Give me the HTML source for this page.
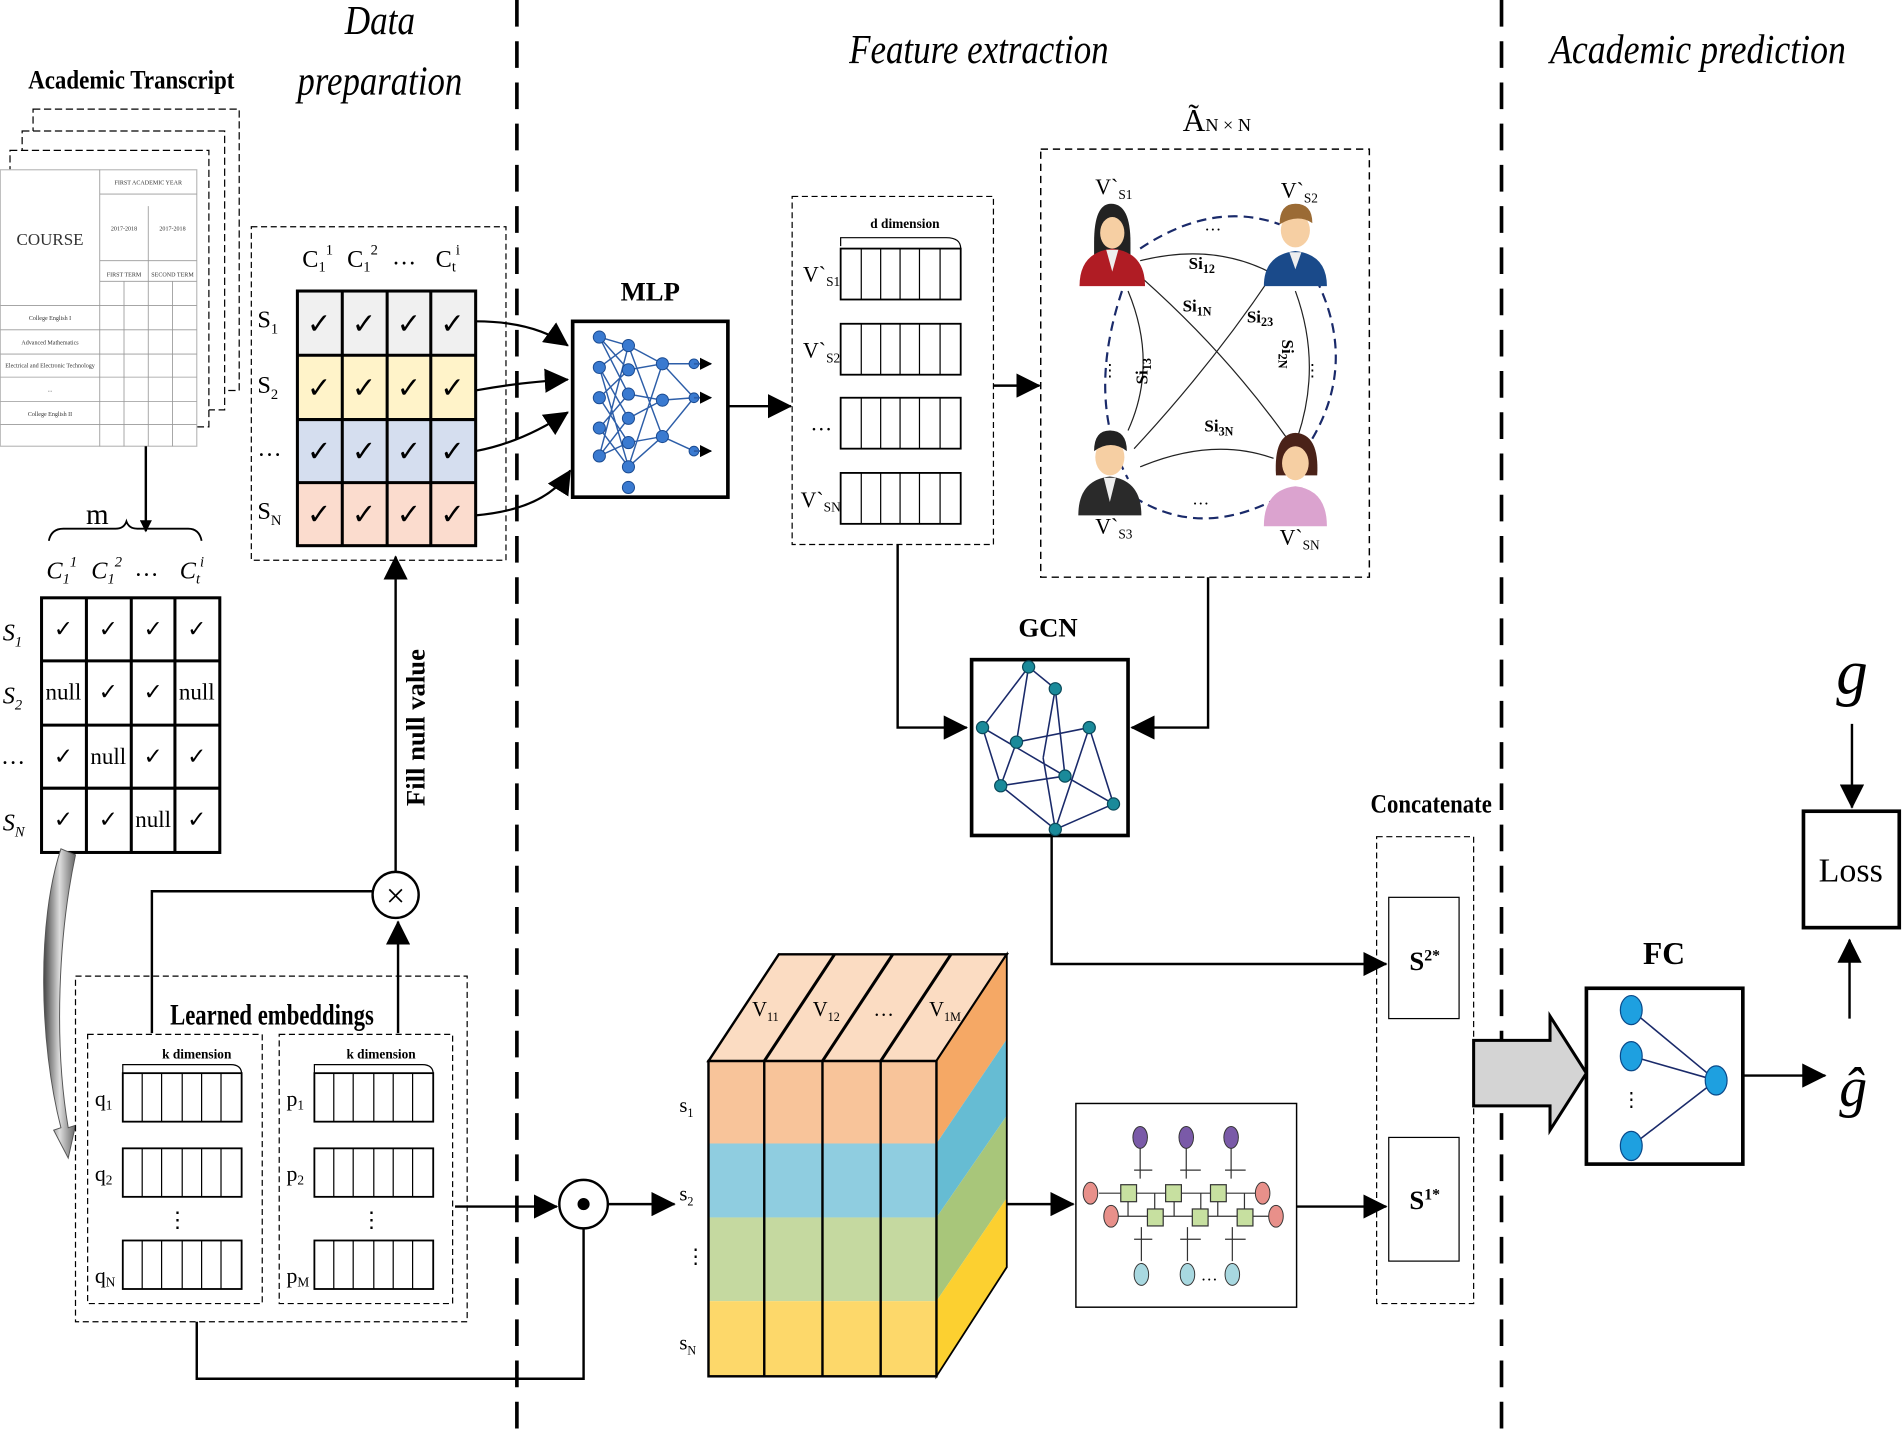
<!DOCTYPE html>
<html><head><meta charset="utf-8"><style>
html,body{margin:0;padding:0;background:#fff;}
svg{display:block;}
text{font-family:"Liberation Serif",serif;}
</style></head><body>
<svg width="1902" height="1443" viewBox="0 0 1568 1190" xmlns="http://www.w3.org/2000/svg">
<defs>
<marker id="ar" markerWidth="10" markerHeight="10" refX="9" refY="5" orient="auto" markerUnits="userSpaceOnUse"><path d="M0,0 L10,5 L0,10 Z" fill="#000"/></marker>
<marker id="arb" markerWidth="20" markerHeight="20" refX="19" refY="10" orient="auto" markerUnits="userSpaceOnUse"><path d="M0,0 L20,10 L0,20 Z" fill="#000"/></marker>
<linearGradient id="gg" x1="0" x2="1"><stop offset="0" stop-color="#444"/><stop offset="0.5" stop-color="#ddd"/><stop offset="1" stop-color="#666"/></linearGradient>
</defs>

<!-- section dividers -->
<line x1="426" y1="0" x2="426" y2="1190" stroke="#000" stroke-width="3" stroke-dasharray="22,12"/>
<line x1="1238" y1="0" x2="1238" y2="1190" stroke="#000" stroke-width="3" stroke-dasharray="22,12"/>

<!-- titles -->
<g font-style="italic" font-size="34" text-anchor="middle">
<text x="313" y="28" textLength="58" lengthAdjust="spacingAndGlyphs">Data</text>
<text x="313" y="78" textLength="136" lengthAdjust="spacingAndGlyphs">preparation</text>
<text x="807" y="52" textLength="214" lengthAdjust="spacingAndGlyphs">Feature extraction</text>
<text x="1400" y="52" textLength="244" lengthAdjust="spacingAndGlyphs">Academic  prediction</text>
</g>
<text x="108" y="73" font-size="22" font-weight="bold" text-anchor="middle" textLength="170" lengthAdjust="spacingAndGlyphs">Academic Transcript</text>

<!-- transcript pages -->
<g fill="#fff" stroke="#000" stroke-width="1">
<rect x="27" y="90" width="170" height="232" stroke-dasharray="6,3"/>
<rect x="18" y="108" width="167" height="230" stroke-dasharray="6,3"/>
<rect x="8" y="124" width="164" height="228" stroke-dasharray="6,3"/>
<rect x="0" y="140" width="162" height="228" stroke="#bbb"/>
</g>
<g stroke="#999" stroke-width="0.7">
<line x1="82" y1="140" x2="82" y2="368"/><line x1="0" y1="252" x2="162" y2="252"/>
<line x1="82" y1="160" x2="162" y2="160"/><line x1="82" y1="215" x2="162" y2="215"/><line x1="82" y1="232" x2="162" y2="232"/>
<line x1="122" y1="170" x2="122" y2="368"/><line x1="102" y1="232" x2="102" y2="368"/><line x1="142" y1="232" x2="142" y2="368"/>
<line x1="0" y1="272" x2="162" y2="272"/><line x1="0" y1="292" x2="162" y2="292"/><line x1="0" y1="311" x2="162" y2="311"/><line x1="0" y1="331" x2="162" y2="331"/><line x1="0" y1="350" x2="162" y2="350"/>
</g>
<g font-size="5" text-anchor="middle" fill="#333">
<text x="122" y="152">FIRST ACADEMIC YEAR</text><text x="102" y="190">2017-2018</text><text x="142" y="190">2017-2018</text>
<text x="102" y="228">FIRST TERM</text><text x="142" y="228">SECOND TERM</text>
<text x="41" y="264">College English I</text><text x="41" y="284">Advanced Mathematics</text><text x="41" y="303">Electrical and Electronic Technology</text><text x="41" y="323">...</text><text x="41" y="343">College English II</text>
</g>
<text x="41" y="202" font-size="14" text-anchor="middle" fill="#333">COURSE</text>
<line x1="120" y1="368" x2="120" y2="438" stroke="#000" stroke-width="2" marker-end="url(#ar)"/>

<!-- m brace -->
<text x="80" y="432" font-size="24" text-anchor="middle">m</text>
<path d="M40,446 Q42,436 52,436 L95,436 Q102,436 104,430 Q106,436 113,436 L155,436 Q164,436 166,446" fill="none" stroke="#000" stroke-width="1.5"/>
<g font-size="20" font-style="italic">
<text x="38" y="477">C<tspan font-size="12" dy="4">1</tspan><tspan font-size="12" dy="-14">1</tspan></text>
<text x="75" y="477">C<tspan font-size="12" dy="4">1</tspan><tspan font-size="12" dy="-14">2</tspan></text>
<text x="112" y="475">…</text>
<text x="148" y="477">C<tspan font-size="12" dy="4">t</tspan><tspan font-size="12" dy="-14">i</tspan></text>
</g>
<!-- raw table -->
<g stroke="#000" stroke-width="2.5" fill="none">
<rect x="34" y="493" width="147" height="210"/>
<line x1="71" y1="493" x2="71" y2="703"/><line x1="108" y1="493" x2="108" y2="703"/><line x1="144" y1="493" x2="144" y2="703"/>
<line x1="34" y1="545" x2="181" y2="545"/><line x1="34" y1="598" x2="181" y2="598"/><line x1="34" y1="650" x2="181" y2="650"/>
</g>
<g font-size="19" text-anchor="middle">
<text x="52" y="525">✓</text><text x="89" y="525">✓</text><text x="126" y="525">✓</text><text x="162" y="525">✓</text>
<text x="52" y="577">null</text><text x="89" y="577">✓</text><text x="126" y="577">✓</text><text x="162" y="577">null</text>
<text x="52" y="630">✓</text><text x="89" y="630">null</text><text x="126" y="630">✓</text><text x="162" y="630">✓</text>
<text x="52" y="682">✓</text><text x="89" y="682">✓</text><text x="126" y="682">null</text><text x="162" y="682">✓</text>
</g>
<g font-size="20" font-style="italic">
<text x="2" y="528">S<tspan font-size="12" dy="5">1</tspan></text>
<text x="2" y="580">S<tspan font-size="12" dy="5">2</tspan></text>
<text x="2" y="630">…</text>
<text x="2" y="685">S<tspan font-size="12" dy="5">N</tspan></text>
</g>
<!-- gray curved arrow -->
<path d="M50,700 C30,760 32,860 50,930 L44,932 L56,955 L62,928 L56,930 C44,860 48,770 62,705 Z" fill="url(#gg)" stroke="#555" stroke-width="0.8"/>

<!-- data prep box -->
<rect x="207" y="187" width="210" height="275" fill="none" stroke="#000" stroke-width="1" stroke-dasharray="5,3"/>
<g font-size="20">
<text x="249" y="220">C<tspan font-size="12" dy="4">1</tspan><tspan font-size="12" dy="-14">1</tspan></text>
<text x="286" y="220">C<tspan font-size="12" dy="4">1</tspan><tspan font-size="12" dy="-14">2</tspan></text>
<text x="323" y="218">…</text>
<text x="359" y="220">C<tspan font-size="12" dy="4">t</tspan><tspan font-size="12" dy="-14">i</tspan></text>
<text x="212" y="270">S<tspan font-size="12" dy="5">1</tspan></text>
<text x="212" y="324">S<tspan font-size="12" dy="5">2</tspan></text>
<text x="212" y="376">…</text>
<text x="212" y="428">S<tspan font-size="12" dy="5">N</tspan></text>
</g>
<rect x="245" y="240" width="147" height="53" fill="#f0f0f0"/>
<rect x="245" y="293" width="147" height="53" fill="#fff3c9"/>
<rect x="245" y="346" width="147" height="52" fill="#d5deef"/>
<rect x="245" y="398" width="147" height="52" fill="#fbdcce"/>
<g stroke="#000" stroke-width="2.5" fill="none">
<rect x="245" y="240" width="147" height="210"/>
<line x1="282" y1="240" x2="282" y2="450"/><line x1="319" y1="240" x2="319" y2="450"/><line x1="355" y1="240" x2="355" y2="450"/>
<line x1="245" y1="293" x2="392" y2="293"/><line x1="245" y1="346" x2="392" y2="346"/><line x1="245" y1="398" x2="392" y2="398"/>
</g>
<g font-size="24" text-anchor="middle">
<text x="263" y="275">✓</text><text x="300" y="275">✓</text><text x="337" y="275">✓</text><text x="373" y="275">✓</text>
<text x="263" y="328">✓</text><text x="300" y="328">✓</text><text x="337" y="328">✓</text><text x="373" y="328">✓</text>
<text x="263" y="380">✓</text><text x="300" y="380">✓</text><text x="337" y="380">✓</text><text x="373" y="380">✓</text>
<text x="263" y="432">✓</text><text x="300" y="432">✓</text><text x="337" y="432">✓</text><text x="373" y="432">✓</text>
</g>
<g stroke="#000" stroke-width="1.8" fill="none">
<path d="M392,265 Q440,265 468,285" marker-end="url(#arb)"/>
<path d="M392,322 Q430,315 468,313" marker-end="url(#arb)"/>
<path d="M392,372 Q430,365 468,340" marker-end="url(#arb)"/>
<path d="M392,425 Q450,420 470,388" marker-end="url(#arb)"/>
</g>

<!-- MLP -->
<text x="536" y="248" font-size="22" font-weight="bold" text-anchor="middle">MLP</text>
<rect x="472" y="265" width="128" height="145" fill="#fff" stroke="#000" stroke-width="3"/>
<g stroke="#2d5ea8" stroke-width="1.2">
<path d="M494,278 L518,285 M494,278 L518,305 M494,278 L518,325 M494,303 L518,285 M494,303 L518,345 M494,328 L518,305 M494,328 L518,365 M494,353 L518,325 M494,353 L518,385 M494,376 L518,345 M494,376 L518,365 M494,303 L518,385 M494,376 L518,285"/>
<path d="M518,285 L546,300 M518,305 L546,300 M518,325 L546,330 M518,345 L546,330 M518,365 L546,360 M518,385 L546,360 M518,285 L546,360 M518,385 L546,300 M546,300 L572,300 M546,330 L572,328 M546,360 L572,372 M546,300 L572,328 M546,360 L572,328"/>
</g>
<g fill="#3a7ad0" stroke="#1a4a90" stroke-width="0.8">
<circle cx="494" cy="278" r="5"/><circle cx="494" cy="303" r="5"/><circle cx="494" cy="328" r="5"/><circle cx="494" cy="353" r="5"/><circle cx="494" cy="376" r="5"/>
<circle cx="518" cy="285" r="5"/><circle cx="518" cy="305" r="5"/><circle cx="518" cy="325" r="5"/><circle cx="518" cy="345" r="5"/><circle cx="518" cy="365" r="5"/><circle cx="518" cy="385" r="5"/><circle cx="518" cy="402" r="5"/>
<circle cx="546" cy="300" r="5"/><circle cx="546" cy="330" r="5"/><circle cx="546" cy="360" r="5"/>
<circle cx="572" cy="300" r="4"/><circle cx="572" cy="328" r="4"/><circle cx="572" cy="372" r="4"/>
</g>
<g stroke="#2d5ea8" stroke-width="1.5"><line x1="572" y1="300" x2="586" y2="300" marker-end="url(#ar)"/><line x1="572" y1="328" x2="586" y2="328" marker-end="url(#ar)"/><line x1="572" y1="372" x2="586" y2="372" marker-end="url(#ar)"/></g>
<line x1="600" y1="335" x2="652" y2="335" stroke="#000" stroke-width="2" marker-end="url(#arb)"/>

<!-- vectors box -->
<rect x="653" y="162" width="166" height="287" fill="none" stroke="#000" stroke-width="1" stroke-dasharray="5,3"/>
<text x="746" y="188" font-size="11" font-weight="bold" text-anchor="middle">d dimension</text>
<path d="M693,203 L693,196 L780,196 Q792,196 792,205" fill="none" stroke="#000" stroke-width="1"/>
<g stroke="#000" stroke-width="1.5" fill="#fff">
<rect x="693" y="205" width="99" height="42"/><rect x="693" y="267" width="99" height="42"/><rect x="693" y="328" width="99" height="42"/><rect x="693" y="390" width="99" height="42"/>
</g>
<g stroke="#000" stroke-width="1">
<path d="M710,205v42M726,205v42M742,205v42M758,205v42M775,205v42 M710,267v42M726,267v42M742,267v42M758,267v42M775,267v42 M710,328v42M726,328v42M742,328v42M758,328v42M775,328v42 M710,390v42M726,390v42M742,390v42M758,390v42M775,390v42"/>
</g>
<g font-size="18">
<text x="662" y="232">V`<tspan font-size="11" dy="4">S1</tspan></text>
<text x="662" y="295">V`<tspan font-size="11" dy="4">S2</tspan></text>
<text x="668" y="355">…</text>
<text x="660" y="418">V`<tspan font-size="11" dy="4">SN</tspan></text>
</g>
<line x1="819" y1="318" x2="857" y2="318" stroke="#000" stroke-width="2" marker-end="url(#arb)"/>

<!-- graph box -->
<text x="975" y="108" font-size="26">Ã<tspan font-size="15">N × N</tspan></text>
<rect x="858" y="123" width="271" height="353" fill="none" stroke="#000" stroke-width="1.2" stroke-dasharray="6,4"/>
<g fill="none" stroke="#1a2a6a" stroke-width="1.8" stroke-dasharray="8,5">
<path d="M925,240 Q895,330 930,395"/>
<path d="M940,205 Q1000,165 1055,185"/>
<path d="M1085,230 Q1120,300 1080,365"/>
<path d="M935,410 Q990,445 1055,410"/>
</g>
<g fill="none" stroke="#222" stroke-width="1">
<path d="M940,215 Q1000,200 1048,225"/>
<path d="M930,240 Q955,300 930,355"/>
<path d="M940,228 Q1010,290 1060,360"/>
<path d="M1050,225 Q1000,300 935,370"/>
<path d="M1068,240 Q1090,300 1070,360"/>
<path d="M940,385 Q1000,360 1050,378"/>
</g>
<g font-size="14" font-weight="bold">
<text x="980" y="222">Si<tspan font-size="10" dy="3">12</tspan></text>
<text x="975" y="257">Si<tspan font-size="10" dy="3">1N</tspan></text>
<text x="1028" y="266">Si<tspan font-size="10" dy="3">23</tspan></text>
<text x="993" y="356">Si<tspan font-size="10" dy="3">3N</tspan></text>
<text transform="translate(946,317) rotate(-90)">Si<tspan font-size="10" dy="3">13</tspan></text>
<text transform="translate(1057,280) rotate(90)">Si<tspan font-size="10" dy="3">2N</tspan></text>
</g>
<g font-size="14" text-anchor="middle"><text x="1000" y="190">…</text><text x="990" y="416">…</text><text x="915" y="310">⋮</text><text x="1082" y="310">⋮</text></g>
<g font-size="18">
<text x="903" y="160">V`<tspan font-size="11" dy="4">S1</tspan></text>
<text x="1056" y="163">V`<tspan font-size="11" dy="4">S2</tspan></text>
<text x="903" y="440">V`<tspan font-size="11" dy="4">S3</tspan></text>
<text x="1055" y="449">V`<tspan font-size="11" dy="4">SN</tspan></text>
</g>
<!-- persons -->
<g>
<path d="M902,200 Q902,168 916,168 Q932,168 932,200 L932,210 L902,210 Z" fill="#222"/>
<ellipse cx="917" cy="192" rx="10" ry="13" fill="#f6cfa3"/>
<path d="M890,236 Q890,208 917,205 Q944,208 944,236 Z" fill="#b01c24"/>
<path d="M912,206 L917,224 L922,206 Z" fill="#eee"/>
</g>
<g>
<ellipse cx="1068" cy="190" rx="12" ry="14" fill="#f6cfa3"/>
<path d="M1055,185 Q1055,168 1068,168 Q1082,168 1082,184 Q1070,176 1055,185Z" fill="#9b6b35"/>
<path d="M1042,236 Q1042,210 1068,207 Q1094,210 1094,236 Z" fill="#1a4a8a"/>
<path d="M1063,208 L1068,222 L1073,208 Z" fill="#eee"/>
</g>
<g>
<ellipse cx="915" cy="377" rx="12" ry="15" fill="#f6cfa3"/>
<path d="M902,372 Q902,355 915,355 Q929,355 929,372 Q916,362 902,372Z" fill="#222"/>
<path d="M889,425 Q889,396 915,393 Q941,396 941,425 Z" fill="#2a2a2a"/>
<path d="M910,394 L915,414 L920,394 Z" fill="#eee"/>
</g>
<g>
<path d="M1052,392 Q1050,358 1068,357 Q1088,358 1086,392 Z" fill="#4a2218"/>
<ellipse cx="1068" cy="382" rx="11" ry="14" fill="#f6cfa3"/>
<path d="M1042,434 Q1042,404 1068,401 Q1094,404 1094,434 Z" fill="#dba3cf"/>
</g>

<!-- GCN -->
<text x="864" y="525" font-size="22" font-weight="bold" text-anchor="middle">GCN</text>
<rect x="801" y="544" width="129" height="145" fill="#fff" stroke="#000" stroke-width="3"/>
<g stroke="#1a2a6a" stroke-width="1.3" fill="none">
<path d="M848,550 L810,600 M848,550 L870,568 M848,550 L838,612 M870,568 L878,640 M870,568 L860,625 M810,600 L825,648 M810,600 L878,640 M838,612 L825,648 M838,612 L898,600 M898,600 L918,663 M898,600 L870,684 M878,640 L918,663 M825,648 L878,640 M870,684 L918,663 M860,625 L870,684 M825,648 L870,684"/>
</g>
<g fill="#1a8a9a" stroke="#0a4a5a" stroke-width="1">
<circle cx="848" cy="550" r="5"/><circle cx="870" cy="568" r="5"/><circle cx="810" cy="600" r="5"/><circle cx="838" cy="612" r="5"/><circle cx="898" cy="600" r="5"/><circle cx="878" cy="640" r="5"/><circle cx="825" cy="648" r="5"/><circle cx="918" cy="663" r="5"/><circle cx="870" cy="684" r="5"/>
</g>
<polyline points="740,449 740,600 797,600" fill="none" stroke="#000" stroke-width="2" marker-end="url(#arb)"/>
<polyline points="996,476 996,600 933,600" fill="none" stroke="#000" stroke-width="2" marker-end="url(#arb)"/>
<polyline points="867,689 867,795 1143,795" fill="none" stroke="#000" stroke-width="2" marker-end="url(#arb)"/>

<!-- concatenate -->
<text x="1180" y="670" font-size="22" font-weight="bold" text-anchor="middle" textLength="100" lengthAdjust="spacingAndGlyphs">Concatenate</text>
<rect x="1135" y="690" width="80" height="385" fill="none" stroke="#000" stroke-width="1" stroke-dasharray="5,3"/>
<rect x="1145" y="740" width="58" height="100" fill="#fff" stroke="#000" stroke-width="1"/>
<rect x="1145" y="938" width="58" height="102" fill="#fff" stroke="#000" stroke-width="1"/>
<text x="1162" y="800" font-size="22" font-weight="bold">S<tspan font-size="13" dy="-8">2*</tspan></text>
<text x="1162" y="997" font-size="22" font-weight="bold">S<tspan font-size="13" dy="-8">1*</tspan></text>

<!-- big arrow -->
<path d="M1215,858 L1278,858 L1278,838 L1308,885 L1278,932 L1278,912 L1215,912 Z" fill="#d4d4d4" stroke="#000" stroke-width="2.5"/>

<!-- FC -->
<text x="1372" y="795" font-size="26" font-weight="bold" text-anchor="middle">FC</text>
<rect x="1308" y="815" width="129" height="145" fill="#fff" stroke="#000" stroke-width="3"/>
<g stroke="#1a2a6a" stroke-width="1.3"><line x1="1345" y1="833" x2="1415" y2="891"/><line x1="1345" y1="871" x2="1415" y2="891"/><line x1="1345" y1="945" x2="1415" y2="891"/></g>
<g fill="#1ea0e0" stroke="#0a4a8a" stroke-width="1"><ellipse cx="1345" cy="833" rx="9" ry="12"/><ellipse cx="1345" cy="871" rx="9" ry="12"/><ellipse cx="1345" cy="945" rx="9" ry="12"/><ellipse cx="1415" cy="891" rx="9" ry="12"/></g>
<text x="1345" y="912" font-size="16" text-anchor="middle">⋮</text>
<line x1="1437" y1="887" x2="1505" y2="887" stroke="#000" stroke-width="2" marker-end="url(#arb)"/>
<text x="1528" y="912" font-size="46" font-style="italic" text-anchor="middle">ĝ</text>
<!-- loss -->
<text x="1527" y="572" font-size="52" font-style="italic" text-anchor="middle">g</text>
<line x1="1527" y1="597" x2="1527" y2="666" stroke="#000" stroke-width="2" marker-end="url(#arb)"/>
<rect x="1487" y="669" width="79" height="96" fill="#fff" stroke="#000" stroke-width="3"/>
<text x="1526" y="727" font-size="28" text-anchor="middle">Loss</text>
<line x1="1525" y1="840" x2="1525" y2="775" stroke="#000" stroke-width="2" marker-end="url(#arb)"/>

<!-- learned embeddings -->
<rect x="62" y="805" width="323" height="285" fill="none" stroke="#000" stroke-width="1" stroke-dasharray="5,3"/>
<rect x="72" y="853" width="144" height="222" fill="none" stroke="#000" stroke-width="1" stroke-dasharray="5,3"/>
<rect x="230" y="853" width="143" height="222" fill="none" stroke="#000" stroke-width="1" stroke-dasharray="5,3"/>
<rect x="120" y="822" width="210" height="28" fill="#fff"/>
<text x="224" y="845" font-size="24" font-weight="bold" text-anchor="middle" textLength="168" lengthAdjust="spacingAndGlyphs">Learned embeddings</text>
<g font-size="11" font-weight="bold" text-anchor="middle"><text x="162" y="873">k dimension</text><text x="314" y="873">k dimension</text></g>
<path d="M101,885 L101,878 L190,878 Q199,878 199,886" fill="none" stroke="#000"/>
<path d="M259,885 L259,878 L348,878 Q357,878 357,886" fill="none" stroke="#000"/>
<g stroke="#000" stroke-width="1.5" fill="#fff">
<rect x="101" y="885" width="98" height="40"/><rect x="101" y="947" width="98" height="40"/><rect x="101" y="1023" width="98" height="40"/>
<rect x="259" y="885" width="98" height="40"/><rect x="259" y="947" width="98" height="40"/><rect x="259" y="1023" width="98" height="40"/>
</g>
<g stroke="#000" stroke-width="1">
<path d="M117,885v40M133,885v40M150,885v40M166,885v40M182,885v40 M117,947v40M133,947v40M150,947v40M166,947v40M182,947v40 M117,1023v40M133,1023v40M150,1023v40M166,1023v40M182,1023v40"/>
<path d="M275,885v40M291,885v40M308,885v40M324,885v40M340,885v40 M275,947v40M291,947v40M308,947v40M324,947v40M340,947v40 M275,1023v40M291,1023v40M308,1023v40M324,1023v40M340,1023v40"/>
</g>
<g font-size="18">
<text x="78" y="912">q<tspan font-size="11" dy="3">1</tspan></text>
<text x="78" y="974">q<tspan font-size="11" dy="3">2</tspan></text>
<text x="78" y="1058">q<tspan font-size="11" dy="3">N</tspan></text>
<text x="236" y="912">p<tspan font-size="11" dy="3">1</tspan></text>
<text x="236" y="974">p<tspan font-size="11" dy="3">2</tspan></text>
<text x="236" y="1058">p<tspan font-size="11" dy="3">M</tspan></text>
<text x="146" y="1012" text-anchor="middle">⋮</text><text x="306" y="1012" text-anchor="middle">⋮</text>
</g>
<polyline points="125,852 125,735 307,735" fill="none" stroke="#000" stroke-width="2"/>
<line x1="328" y1="852" x2="328" y2="760" stroke="#000" stroke-width="2" marker-end="url(#arb)"/>
<circle cx="326" cy="738" r="19" fill="#fff" stroke="#000" stroke-width="2"/>
<text x="326" y="748" font-size="28" text-anchor="middle">×</text>
<line x1="326" y1="719" x2="326" y2="459" stroke="#000" stroke-width="2" marker-end="url(#arb)"/>
<text transform="translate(350,600) rotate(-90)" font-size="22" font-weight="bold" text-anchor="middle">Fill null value</text>

<line x1="375" y1="995" x2="459" y2="995" stroke="#000" stroke-width="2" marker-end="url(#arb)"/>
<circle cx="481" cy="993" r="20" fill="#fff" stroke="#000" stroke-width="2"/>
<circle cx="481" cy="993" r="5" fill="#000"/>
<line x1="501" y1="993" x2="556" y2="993" stroke="#000" stroke-width="2" marker-end="url(#arb)"/>
<polyline points="162,1090 162,1137 481,1137 481,1013" fill="none" stroke="#000" stroke-width="2"/>

<!-- 3D cube -->
<polygon points="584,875 772,875 830,787 642,787" fill="#fbdcc2" stroke="#000" stroke-width="2"/>
<g stroke="#000" stroke-width="2.5"><line x1="630" y1="875" x2="688" y2="787"/><line x1="678" y1="875" x2="736" y2="787"/><line x1="726" y1="875" x2="784" y2="787"/></g>
<polygon points="772,875 830,787 830,857 772,943" fill="#f5a865"/>
<polygon points="772,943 830,857 830,920 772,1004" fill="#66bcd3"/>
<polygon points="772,1004 830,920 830,988 772,1073" fill="#a8c67a"/>
<polygon points="772,1073 830,988 830,1045 772,1135" fill="#fcd030"/>
<polygon points="772,875 830,787 830,1045 772,1135" fill="none" stroke="#000" stroke-width="1.5"/>
<rect x="584" y="875" width="188" height="68" fill="#f8c49a"/>
<rect x="584" y="943" width="188" height="61" fill="#8fcde0"/>
<rect x="584" y="1004" width="188" height="69" fill="#c5d9a0"/>
<rect x="584" y="1073" width="188" height="62" fill="#fdd86a"/>
<g stroke="#000" stroke-width="2" fill="none">
<rect x="584" y="875" width="188" height="260"/>
<line x1="630" y1="875" x2="630" y2="1135"/><line x1="678" y1="875" x2="678" y2="1135"/><line x1="726" y1="875" x2="726" y2="1135"/>
</g>
<g font-size="17">
<text x="620" y="838">V<tspan font-size="10" dy="4">11</tspan></text>
<text x="670" y="838">V<tspan font-size="10" dy="4">12</tspan></text>
<text x="720" y="838">…</text>
<text x="766" y="838">V<tspan font-size="10" dy="4">1M</tspan></text>
<text x="560" y="917">s<tspan font-size="10" dy="4">1</tspan></text>
<text x="560" y="990">s<tspan font-size="10" dy="4">2</tspan></text>
<text x="565" y="1042">⋮</text>
<text x="560" y="1113">s<tspan font-size="10" dy="4">N</tspan></text>
</g>
<line x1="830" y1="993" x2="885" y2="993" stroke="#000" stroke-width="2" marker-end="url(#arb)"/>

<!-- RNN box -->
<rect x="887" y="910" width="182" height="168" fill="#fff" stroke="#000" stroke-width="1.2"/>
<g stroke="#333" stroke-width="1" fill="none">
<path d="M906,984 H1040 M916,1003 H1050 M940,947 V972 M978,947 V972 M1015,947 V972 M941,1040 V1012 M979,1040 V1012 M1016,1040 V1012 M930,984 V1003 M968,984 V1003 M1004,984 V1003 M952,984 V1003 M990,984 V1003 M1026,984 V1003 M935,965 H950 M973,965 H990 M1010,965 H1027 M935,1022 H950 M973,1022 H990 M1010,1022 H1027"/>
</g>
<g fill="#c7e0a0" stroke="#333" stroke-width="1">
<rect x="924" y="977" width="13" height="14"/><rect x="961" y="977" width="13" height="14"/><rect x="998" y="977" width="13" height="14"/>
<rect x="946" y="997" width="13" height="14"/><rect x="983" y="997" width="13" height="14"/><rect x="1020" y="997" width="13" height="14"/>
</g>
<g stroke="#333" stroke-width="0.8">
<ellipse cx="940" cy="938" rx="6" ry="9" fill="#7a5aa8"/><ellipse cx="978" cy="938" rx="6" ry="9" fill="#7a5aa8"/><ellipse cx="1015" cy="938" rx="6" ry="9" fill="#7a5aa8"/>
<ellipse cx="941" cy="1051" rx="6" ry="9" fill="#a8d8e0"/><ellipse cx="979" cy="1051" rx="6" ry="9" fill="#a8d8e0"/><ellipse cx="1016" cy="1051" rx="6" ry="9" fill="#a8d8e0"/>
<ellipse cx="899" cy="984" rx="6" ry="9" fill="#e8908a"/><ellipse cx="916" cy="1003" rx="6" ry="9" fill="#e8908a"/><ellipse cx="1041" cy="984" rx="6" ry="9" fill="#e8908a"/><ellipse cx="1052" cy="1003" rx="6" ry="9" fill="#e8908a"/>
</g>
<text x="997" y="1056" font-size="14" text-anchor="middle">…</text>
<line x1="1069" y1="995" x2="1143" y2="995" stroke="#000" stroke-width="2" marker-end="url(#arb)"/>
</svg>
</body></html>
